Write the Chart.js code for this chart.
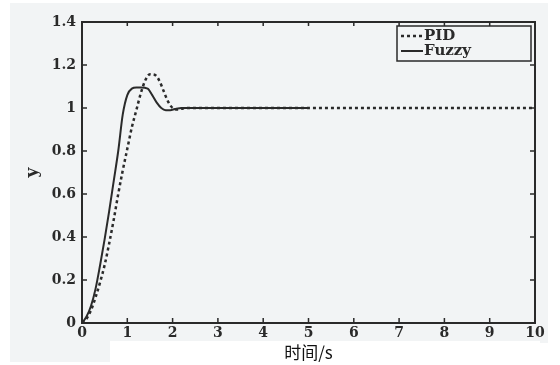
<!DOCTYPE html>
<html>
<head>
<meta charset="utf-8">
<script src="https://cdn.jsdelivr.net/npm/chart.js@4"></script>
<style>
  html, body { margin: 0; padding: 0; background: #fff; }
  #wrap { width: 560px; height: 365px; position: relative; }
</style>
</head>
<body>
<div id="wrap"><canvas id="c" width="560" height="365"></canvas></div>
<script>
// ---------------- Data ----------------
const pidT =   [0, 0.1, 0.2, 0.3, 0.4, 0.5, 0.6, 0.7, 0.8, 0.9, 1.0, 1.1, 1.2, 1.3, 1.4, 1.5, 1.6, 1.7, 1.8, 1.9, 2.0, 2.1, 2.2, 2.3, 10];
const pidY =   [0, 0.02, 0.06, 0.12, 0.19, 0.27, 0.37, 0.48, 0.60, 0.71, 0.81, 0.91, 0.99, 1.07, 1.13, 1.157, 1.155, 1.13, 1.08, 1.03, 1.0, 0.993, 0.997, 1.0, 1.0];
const fuzzyT = [0, 0.1, 0.2, 0.3, 0.4, 0.5, 0.6, 0.7, 0.8, 0.9, 1.0, 1.1, 1.2, 1.3, 1.45, 1.55, 1.65, 1.75, 1.85, 1.95, 2.05, 2.2, 5];
const fuzzyY = [0, 0.03, 0.08, 0.16, 0.27, 0.39, 0.52, 0.66, 0.80, 0.97, 1.06, 1.09, 1.095, 1.095, 1.09, 1.06, 1.025, 1.0, 0.99, 0.99, 0.995, 1.0, 1.0];
const xTicks = [0, 1, 2, 3, 4, 5, 6, 7, 8, 9, 10];
const yTicks = [0, 0.2, 0.4, 0.6, 0.8, 1, 1.2, 1.4];

const ink = "#2a2a2a";
const serif = "'DejaVu Serif', 'Liberation Serif', serif";

function pts(xs, ys) { return xs.map((x, i) => ({ x: x, y: ys[i] })); }

// ---------------- Plugins ----------------
const backdrop = {
  id: "backdrop",
  beforeDraw(chart) {
    const ctx = chart.ctx;
    ctx.save();
    ctx.fillStyle = "#ffffff";
    ctx.fillRect(0, 0, chart.width, chart.height);
    ctx.fillStyle = "#f2f4f5";
    ctx.fillRect(10, 3, 538, 340);
    ctx.fillRect(10, 343, 100, 19);
    ctx.fillStyle = "#ffffff";
    ctx.fillRect(110, 341, 430, 24);
    ctx.restore();
  }
};

const frame = {
  id: "frame",
  afterDatasetsDraw(chart) {
    const ctx = chart.ctx;
    const a = chart.chartArea;
    const xs = chart.scales.x, ys = chart.scales.y;
    ctx.save();
    ctx.strokeStyle = ink;
    ctx.lineWidth = 2;
    ctx.strokeRect(a.left, a.top, a.right - a.left, a.bottom - a.top);
    ctx.lineWidth = 1.5;
    ctx.beginPath();
    xTicks.forEach(v => {
      const px = xs.getPixelForValue(v);
      ctx.moveTo(px, a.bottom); ctx.lineTo(px, a.bottom - 5);
      ctx.moveTo(px, a.top); ctx.lineTo(px, a.top + 4);
    });
    yTicks.forEach(v => {
      const py = ys.getPixelForValue(v);
      ctx.moveTo(a.left, py); ctx.lineTo(a.left + 5, py);
      ctx.moveTo(a.right, py); ctx.lineTo(a.right - 5, py);
    });
    ctx.stroke();

    // legend box
    const lx = 397, ly = 26, lw = 134, lh = 35;
    ctx.fillStyle = "#f2f4f5";
    ctx.fillRect(lx, ly, lw, lh);
    ctx.lineWidth = 1.5;
    ctx.strokeRect(lx, ly, lw, lh);
    chart.data.datasets.forEach((ds, i) => {
      const y = 36 + i * 15;
      ctx.beginPath();
      ctx.lineWidth = ds.borderWidth;
      ctx.setLineDash(ds.borderDash || []);
      ctx.moveTo(401, y); ctx.lineTo(423, y);
      ctx.stroke();
      ctx.setLineDash([]);
      ctx.fillStyle = ink;
      ctx.font = "bold 15px " + serif;
      ctx.textBaseline = "middle";
      ctx.fillText(ds.label, 424, y);
    });
    ctx.restore();
  }
};

// ---------------- Chart ----------------
new Chart(document.getElementById("c"), {
  type: "line",
  data: {
    datasets: [
      {
        label: "PID",
        data: pts(pidT, pidY),
        borderColor: ink,
        borderWidth: 2.5,
        borderDash: [3, 3],
        pointRadius: 0,
        cubicInterpolationMode: "monotone",
        fill: false
      },
      {
        label: "Fuzzy",
        data: pts(fuzzyT, fuzzyY),
        borderColor: ink,
        borderWidth: 2,
        pointRadius: 0,
        cubicInterpolationMode: "monotone",
        fill: false
      }
    ]
  },
  options: {
    responsive: false,
    animation: false,
    layout: { padding: { left: 16, right: 25, top: 22, bottom: 0 } },
    plugins: { legend: { display: false }, tooltip: { enabled: false } },
    scales: {
      x: {
        type: "linear",
        min: 0, max: 10,
        afterFit: s => { s.height = 42; },
        afterBuildTicks: s => { s.ticks = xTicks.map(v => ({ value: v })); },
        grid: { display: false, drawTicks: false, tickLength: 0 },
        border: { display: false },
        ticks: { color: ink, padding: 2, font: { family: serif, size: 14, weight: "bold" } },
        title: {
          display: true,
          text: "时间/s",
          color: "#111",
          padding: { top: 0, bottom: 2 },
          font: { family: "'Noto Sans CJK SC', 'Noto Sans', sans-serif", size: 17 }
        }
      },
      y: {
        min: 0, max: 1.4,
        afterFit: s => { s.width = 66; },
        afterBuildTicks: s => { s.ticks = yTicks.map(v => ({ value: v })); },
        grid: { display: false, drawTicks: false, tickLength: 0 },
        border: { display: false },
        ticks: {
          color: ink, padding: 6,
          font: { family: serif, size: 14, weight: "bold" },
          callback: v => String(v)
        },
        title: {
          display: true,
          text: "y",
          color: ink,
          padding: { top: 6, bottom: 0 },
          font: { family: serif, size: 17, weight: "bold" }
        }
      }
    }
  },
  plugins: [backdrop, frame]
});
</script>
</body>
</html>
